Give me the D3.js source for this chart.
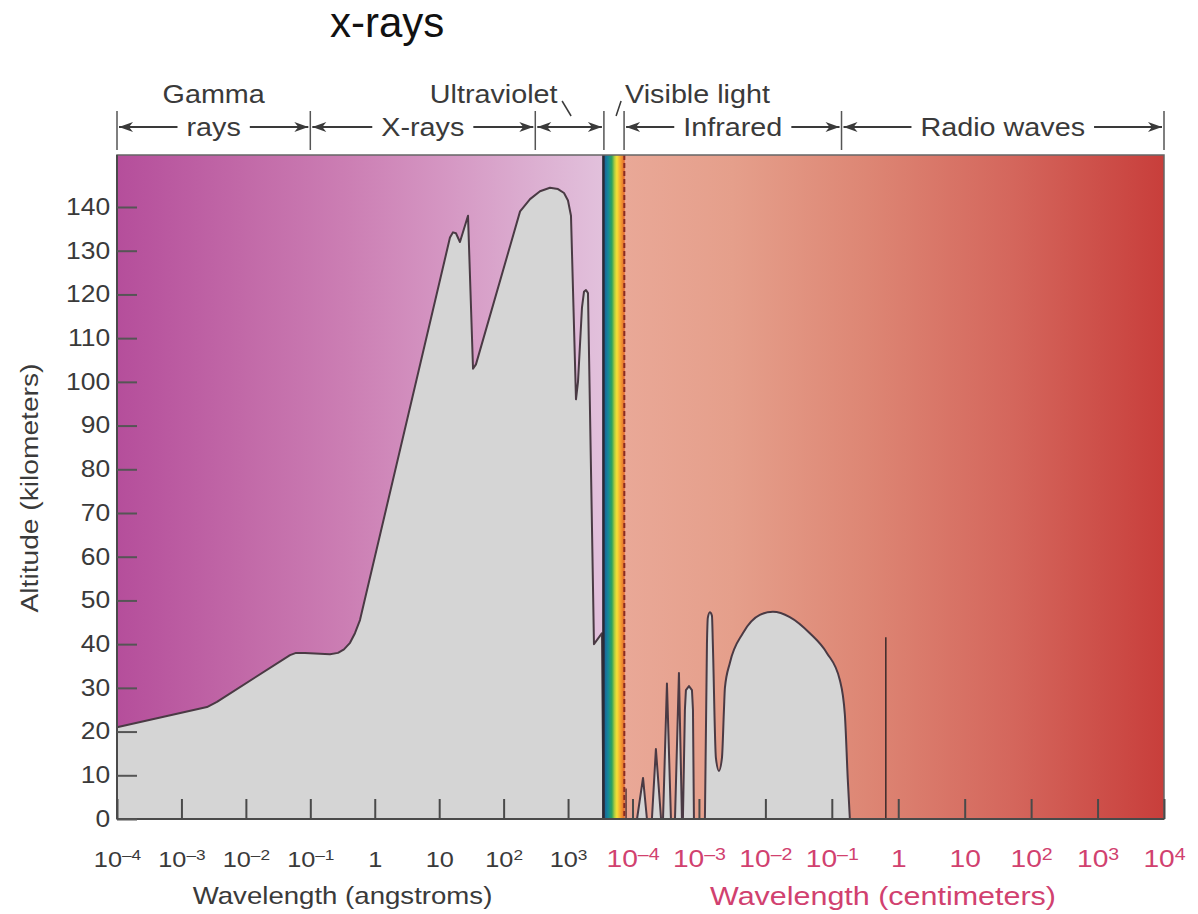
<!DOCTYPE html>
<html><head><meta charset="utf-8">
<script src="https://cdn.jsdelivr.net/npm/d3@7"></script>
<style>
body{margin:0;background:#fff;}
svg{display:block;}
text{font-family:"Liberation Sans",Arial,sans-serif;}
</style>
</head><body>
<svg id="chart" width="1198" height="914"></svg>
<script>
// ---------------- data ----------------
const yTickValues = [0,10,20,30,40,50,60,70,80,90,100,110,120,130,140];
const angstromTicks = [1e-4,1e-3,1e-2,1e-1,1,10,100,1000];
const centimeterTicks = [1e-4,1e-3,1e-2,1e-1,1,10,100,1000,10000];

// altitude to which radiation penetrates, short wavelengths (angstroms)
const uvWavelengthA = [1e-4,0.00249,0.00356,0.0484,0.060,0.0826,0.202,0.269,0.333,0.413,0.493,0.590,
  14.7,16.4,18.2,21.0,28.0,33.5,37.2,180,257,367,524,698,865,997,1110,1327,1426,1644,1766,1897,2037,2524,3359,3548];
const uvAltitudeKm = [21,25.6,26.8,37.5,38.0,38.0,37.7,38.0,38.8,40.3,42.5,45.5,
  133,134.2,134,132,138,103,104,139,141.8,143.6,144.4,144.1,143.2,141.5,138,96,100,117,120.6,121,120.3,40,42.5,0];

// infrared absorption bands (centimeters)
const irWavelengthCm = [1.17e-4,1.44e-4,1.65e-4, 1.96e-4,2.25e-4,2.69e-4, 2.88e-4,3.30e-4,3.79e-4, 4.36e-4,5.00e-4,5.55e-4,
  5.74e-4,6.15e-4,6.37e-4,7.08e-4,7.85e-4,8.13e-4,8.41e-4,
  1.23e-3,1.32e-3,1.36e-3,1.46e-3,1.57e-3,1.62e-3,1.80e-3,2.00e-3,2.22e-3,2.38e-3,2.46e-3,2.92e-3,4.58e-3,8.26e-3,1.30e-2,2.33e-2,4.67e-2,8.41e-2,0.132,0.157,0.174,0.187];
const irAltitudeKm = [0,9.4,0, 0,16,0, 0,31,0, 0,33.4,0,
  0,25,29.5,30.4,29.5,25,0,
  0,40,46,47.3,46.5,40,14,11,14,25,30,35.7,42.5,46.7,47.4,46.2,42.5,38,31.8,24,9,0];

const nearIrSpikeCm = [8.0e-5];
const nearIrSpikeKm = [7];
const radioLineCm = [0.65];
const radioLineKm = [41.6];

// spectrum regions (boundaries in angstroms)
const regionBoundsA = [1e-4, 0.1, 310, 3600, 7400, 1.4e7, 1e12];
const regionArrowLabels = ["rays","X-rays","","","Infrared","Radio waves"];
const regionTopLabels = ["Gamma","","Ultraviolet","Visible light","",""];
const visibleBandA = [3600, 7600];

// ---------------- layout ----------------
const svg = d3.select("#chart");
const L = 117, R = 1164, T = 155, B = 819, MID = 632.5;
const SX = 1.15; // horizontal stretch of lettering in the original
const FONT = "Liberation Sans, Arial, sans-serif";
const textCol = "#3a3a3a", pink = "#d1416f";

const xA = d3.scaleLog().domain([1e-4, 1e4]).range([L, MID]);
const xCm = d3.scaleLog().domain([1e-4, 1e4]).range([MID, R]);
const xAny = a => a <= 1e4 ? xA(a) : xCm(a / 1e8);
const y = d3.scaleLinear().domain([0, 140]).range([B, 207]);

const defs = svg.append("defs");
function grad(id, stops) {
  const g = defs.append("linearGradient").attr("id", id).attr("x1", "0").attr("x2", "1").attr("y1", "0").attr("y2", "0");
  stops.forEach(([o, c]) => g.append("stop").attr("offset", o).attr("stop-color", c));
}
grad("gLeft", [[0, "#b54e9b"], [0.27, "#c26aa8"], [0.48, "#cc7fb4"], [0.68, "#d597c3"], [0.88, "#ddb2d3"], [1, "#e2c1dc"]]);
grad("gRight", [[0, "#e9a897"], [0.2, "#e59f8b"], [0.45, "#dd8674"], [0.72, "#d4665c"], [1, "#c83e3b"]]);
grad("gBand", [[0, "#1d5d98"], [0.2, "#14889a"], [0.38, "#2ea25e"], [0.52, "#b8d040"], [0.62, "#f4e034"], [0.8, "#f3a032"], [1, "#e0622c"]]);

// backgrounds
const bandX0 = xA(visibleBandA[0]), bandX1 = xA(visibleBandA[1]);
svg.append("rect").attr("x", L).attr("y", T).attr("width", bandX0 - L).attr("height", B - T).attr("fill", "url(#gLeft)");
svg.append("rect").attr("x", bandX1).attr("y", T).attr("width", R - bandX1).attr("height", B - T).attr("fill", "url(#gRight)");
svg.append("rect").attr("x", bandX0).attr("y", T).attr("width", bandX1 - bandX0).attr("height", B - T).attr("fill", "url(#gBand)");

// gray penetration areas
const gray = "#d5d5d5", curveCol = "#4a3a44";
function drawArea(data, xs, curve) {
  const area = d3.area().x(d => xs(d[0])).y0(B).y1(d => y(d[1])).curve(curve);
  const line = d3.line().x(d => xs(d[0])).y(d => y(d[1])).curve(curve);
  svg.append("path").datum(data).attr("d", area).attr("fill", gray);
  svg.append("path").datum(data).attr("d", line).attr("fill", "none").attr("stroke", curveCol).attr("stroke-width", 2).attr("stroke-linejoin", "round");
}
const uvData = uvWavelengthA.map((w, i) => [w, uvAltitudeKm[i]]);
const irData = irWavelengthCm.map((w, i) => [w, irAltitudeKm[i]]);
drawArea(uvData, xA, d3.curveLinear);
drawArea(irData.filter(d => d[0] < 1e-3), xCm, d3.curveLinear);
drawArea(irData.filter(d => d[0] >= 1e-3), xCm, d3.curveMonotoneX);

nearIrSpikeCm.forEach((w, i) => svg.append("line").attr("x1", xCm(w)).attr("x2", xCm(w)).attr("y1", B).attr("y2", y(nearIrSpikeKm[i])).attr("stroke", "#5a3a3a").attr("stroke-width", 1.5));
radioLineCm.forEach((w, i) => svg.append("line").attr("x1", xCm(w)).attr("x2", xCm(w)).attr("y1", B).attr("y2", y(radioLineKm[i])).attr("stroke", "#3a2a2a").attr("stroke-width", 1.5));

// band edges
svg.append("line").attr("x1", bandX0 - 0.5).attr("x2", bandX0 - 0.5).attr("y1", T).attr("y2", B).attr("stroke", "#2b2b36").attr("stroke-width", 2.5);
svg.append("line").attr("x1", bandX1 - 0.5).attr("x2", bandX1 - 0.5).attr("y1", T).attr("y2", B).attr("stroke", "#8a2b20").attr("stroke-width", 2).attr("stroke-dasharray", "5,3");

// frame
svg.append("rect").attr("x", L).attr("y", T).attr("width", R - L).attr("height", B - T).attr("fill", "none").attr("stroke", "#666").attr("stroke-width", 1.5);
svg.append("line").attr("x1", L).attr("x2", L).attr("y1", T).attr("y2", B).attr("stroke", "#4a4a4a").attr("stroke-width", 2);
svg.append("line").attr("x1", L).attr("x2", R).attr("y1", B).attr("y2", B).attr("stroke", "#4a4a4a").attr("stroke-width", 2);

// power-of-ten label formatting
function fmtPow(sel, supSize) {
  sel.each(function (d) {
    const e = Math.round(Math.log10(d));
    const t = d3.select(this).text(null);
    if (e === 0) t.append("tspan").text("1");
    else if (e === 1) t.append("tspan").text("10");
    else {
      t.append("tspan").text("10");
      t.append("tspan").attr("dy", "-0.42em").attr("font-size", supSize + "px").text(e < 0 ? "\u2013" + (-e) : String(e));
    }
  });
}

// y axis
const ay = svg.append("g").attr("transform", `translate(${L},0)`)
  .call(d3.axisLeft(y).tickValues(yTickValues).tickSize(-20).tickPadding(6));
ay.attr("font-family", FONT).attr("font-size", 23);
ay.select(".domain").remove();
ay.selectAll(".tick line").attr("stroke", "#555").attr("stroke-width", 2);
ay.selectAll(".tick text").attr("fill", textCol).attr("transform", `scale(${SX},1)`);

// bottom axes
function bottomAxis(scale, ticks, col, size, pad) {
  const g = svg.append("g").attr("transform", `translate(0,${B})`)
    .call(d3.axisBottom(scale).tickValues(ticks).tickSize(-20).tickPadding(pad));
  g.attr("font-family", FONT).attr("font-size", size);
  g.select(".domain").remove();
  g.selectAll(".tick line").attr("stroke", "#4a4a4a").attr("stroke-width", 2);
  g.selectAll(".tick text").attr("fill", col).attr("transform", `scale(${SX},1)`).call(fmtPow, Math.round(size * 0.68));
  return g;
}
bottomAxis(xA, angstromTicks, textCol, 22, 32);
bottomAxis(xCm, centimeterTicks, pink, 24.5, 31);

// axis titles
function sText(x, yy, str, opts = {}) {
  return svg.append("text")
    .attr("transform", `translate(${x},${yy})${opts.rot ? " rotate(" + opts.rot + ")" : ""} scale(${SX},1)`)
    .attr("text-anchor", opts.anchor || "middle")
    .attr("font-size", (opts.size || 23) + "px")
    .attr("font-family", FONT)
    .attr("fill", opts.fill || textCol)
    .text(str);
}
sText((xA(1e-4) + xA(1e3)) / 2, 904, "Wavelength (angstroms)", { size: 24 });
sText(883, 905, "Wavelength (centimeters)", { fill: pink, size: 26.5 });
sText(38, 488, "Altitude (kilometers)", { rot: -90, size: 24.5 });

// header with region brackets
const hdr = svg.append("g");
const bx = regionBoundsA.map(xAny);
const arrowY = 127, hdrCol = "#3a3a3a", HS = 25;
bx.forEach(x => hdr.append("line").attr("x1", x).attr("x2", x).attr("y1", 111).attr("y2", 150).attr("stroke", "#555").attr("stroke-width", 1.5));
function arrow(x1, x2, headL, headR) {
  hdr.append("line").attr("x1", x1).attr("x2", x2).attr("y1", arrowY).attr("y2", arrowY).attr("stroke", hdrCol).attr("stroke-width", 2);
  if (headR) hdr.append("path").attr("d", `M${x2},${arrowY} L${x2 - 14},${arrowY - 5} L${x2 - 10},${arrowY} L${x2 - 14},${arrowY + 5} Z`).attr("fill", hdrCol);
  if (headL) hdr.append("path").attr("d", `M${x1},${arrowY} L${x1 + 14},${arrowY - 5} L${x1 + 10},${arrowY} L${x1 + 14},${arrowY + 5} Z`).attr("fill", hdrCol);
}
regionArrowLabels.forEach((lab, i) => {
  const a = bx[i], b = bx[i + 1], cx = (a + b) / 2;
  if (lab) {
    const t = sText(cx, arrowY + 8.5, lab, { size: HS });
    const w = t.node().getComputedTextLength() * SX;
    arrow(a + 2, cx - w / 2 - 9, true, false);
    arrow(cx + w / 2 + 9, b - 2, false, true);
  } else if (i === 2) {
    arrow(a + 2, b - 2, true, true);
  }
});
regionTopLabels.forEach((lab, i) => {
  if (!lab) return;
  const a = bx[i], b = bx[i + 1], cx = (a + b) / 2;
  if (i === 0) sText(cx, 103, lab, { size: HS });
  else if (i === 2) {
    sText(cx - 12, 103, lab, { anchor: "end", size: HS });
    hdr.append("line").attr("x1", cx - 7.5).attr("y1", 101).attr("x2", cx + 1.5).attr("y2", 116).attr("stroke", hdrCol).attr("stroke-width", 1.5);
  } else if (i === 3) {
    sText(b + 1, 103, lab, { anchor: "start", size: HS });
    hdr.append("line").attr("x1", b - 3).attr("y1", 101).attr("x2", b - 8).attr("y2", 116).attr("stroke", hdrCol).attr("stroke-width", 1.5);
  }
});

// slide title
svg.append("text").attr("x", 330).attr("y", 37).attr("font-family", "Open Sans, sans-serif").attr("font-size", "42px").attr("fill", "#111").text("x-rays");
</script>
</body></html>
